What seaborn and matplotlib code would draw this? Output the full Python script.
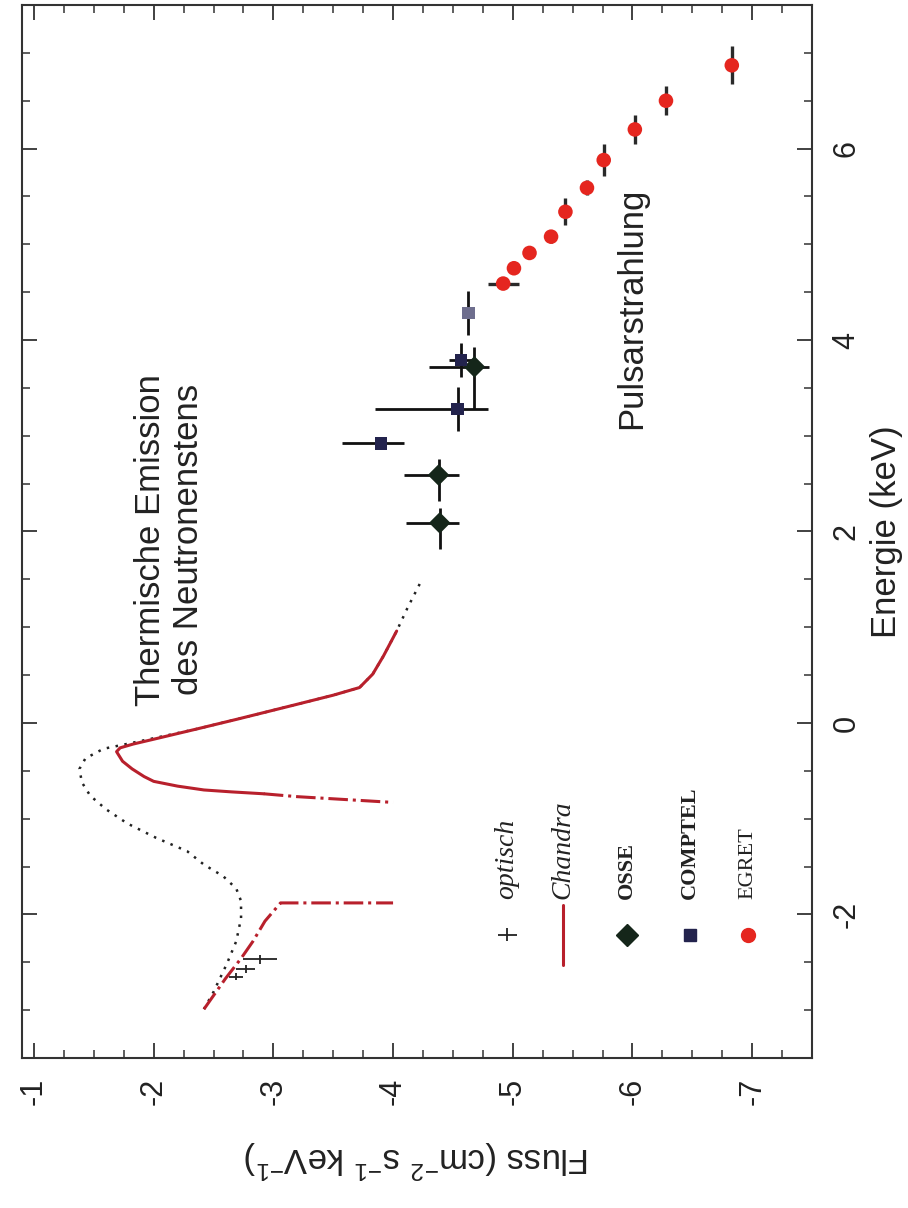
import matplotlib

matplotlib.use("Agg")
import matplotlib.pyplot as plt
import seaborn as sns
from matplotlib.ticker import MultipleLocator

# values in the original orientation: log energy (keV) and log flux
EGRET_ENERGY = [4.59, 4.75, 4.91, 5.08, 5.34, 5.59, 5.88, 6.20, 6.50, 6.87]
EGRET_FLUX = [-4.92, -5.01, -5.14, -5.32, -5.44, -5.62, -5.76, -6.02, -6.28, -6.83]
EGRET_ENERGY_ERR = [0.06, 0.05, 0.05, 0.07, 0.14, 0.08, 0.17, 0.15, 0.15, 0.20]
EGRET_FLUX_ERR = [0.13, 0.03, 0.03, 0.03, 0.03, 0.03, 0.03, 0.03, 0.03, 0.03]

COMPTEL_ENERGY = [4.28, 3.79, 3.28, 2.92]
COMPTEL_FLUX = [-4.63, -4.57, -4.54, -3.90]
COMPTEL_ENERGY_ERR = [0.23, 0.18, 0.23, 0.05]
COMPTEL_FLUX_ERR_LOW = [0.03, 0.10, 0.69, 0.33]
COMPTEL_FLUX_ERR_HIGH = [0.03, 0.10, 0.25, 0.19]
COMPTEL_COLORS = ["#6e6e8e", "#23234d", "#23234d", "#23234d"]

OSSE_ENERGY = [3.72, 2.59, 2.09]
OSSE_FLUX = [-4.68, -4.38, -4.39]
OSSE_ENERGY_ERR_LOW = [0.44, 0.27, 0.27]
OSSE_ENERGY_ERR_HIGH = [0.21, 0.17, 0.16]
OSSE_FLUX_ERR_LOW = [0.38, 0.29, 0.28]
OSSE_FLUX_ERR_HIGH = [0.12, 0.17, 0.16]

OPTICAL_ENERGY = [-2.47, -2.57, -2.65]
OPTICAL_FLUX = [-2.89, -2.77, -2.69]
OPTICAL_ENERGY_ERR = [0.05, 0.04, 0.04]
OPTICAL_FLUX_ERR = [0.14, 0.08, 0.06]

CHANDRA_ENERGY = [-0.74, -0.72, -0.70, -0.66, -0.61, -0.56, -0.48, -0.40, -0.30, -0.26,
                  -0.22, -0.17, -0.06, 0.04, 0.18, 0.29, 0.37, 0.51, 0.70, 0.96]
CHANDRA_FLUX = [-2.92, -2.65, -2.42, -2.20, -2.00, -1.92, -1.82, -1.74, -1.69, -1.72,
                -1.83, -2.00, -2.37, -2.70, -3.15, -3.50, -3.72, -3.83, -3.92, -4.03]

CUT_HIGH_ENERGY = [-0.74, -0.77, -0.80, -0.83]
CUT_HIGH_FLUX = [-2.92, -3.20, -3.60, -4.00]

CUT_LOW_ENERGY = [-2.99, -2.67, -2.46, -2.28, -2.07, -1.88, -1.88, -1.88]
CUT_LOW_FLUX = [-2.42, -2.60, -2.73, -2.83, -2.93, -3.06, -3.50, -4.00]

MODEL_ENERGY = [-2.99, -2.81, -2.52, -2.28, -2.04, -1.86, -1.73, -1.60, -1.48, -1.34,
                -1.20, -1.05, -0.90, -0.76, -0.62, -0.48, -0.37, -0.27, -0.20, -0.06,
                0.04, 0.18, 0.29, 0.37, 0.51, 0.70, 0.96, 1.20, 1.47]
MODEL_FLUX = [-2.42, -2.50, -2.61, -2.69, -2.73, -2.73, -2.69, -2.58, -2.42, -2.28,
              -2.02, -1.78, -1.60, -1.47, -1.40, -1.38, -1.43, -1.58, -1.85, -2.37,
              -2.70, -3.15, -3.50, -3.72, -3.83, -3.92, -4.03, -4.12, -4.23]

CHANDRA_RED = "#b8202c"
EGRET_RED = "#e5261f"
INK = "#222222"


def draw_curves(ax) -> None:
    # picture is turned by 90 degrees: flux runs along x, energy along y
    sns.lineplot(x=MODEL_FLUX, y=MODEL_ENERGY, sort=False, estimator=None, ax=ax,
                 color=INK, linewidth=1.8, linestyle=(0, (1, 2.6)))
    sns.lineplot(x=CUT_HIGH_FLUX, y=CUT_HIGH_ENERGY, sort=False, estimator=None, ax=ax,
                 color=CHANDRA_RED, linewidth=2.2, linestyle="-.")
    sns.lineplot(x=CUT_LOW_FLUX, y=CUT_LOW_ENERGY, sort=False, estimator=None, ax=ax,
                 color=CHANDRA_RED, linewidth=2.2, linestyle="-.")
    sns.lineplot(x=CHANDRA_FLUX, y=CHANDRA_ENERGY, sort=False, estimator=None, ax=ax,
                 color=CHANDRA_RED, linewidth=2.2)


def draw_points(ax) -> None:
    ax.errorbar(OPTICAL_FLUX, OPTICAL_ENERGY, xerr=OPTICAL_FLUX_ERR, yerr=OPTICAL_ENERGY_ERR,
                fmt="none", ecolor=INK, elinewidth=1.3, zorder=3)
    ax.errorbar(OSSE_FLUX, OSSE_ENERGY, xerr=[OSSE_FLUX_ERR_HIGH, OSSE_FLUX_ERR_LOW],
                yerr=[OSSE_ENERGY_ERR_LOW, OSSE_ENERGY_ERR_HIGH],
                fmt="none", ecolor="#111111", elinewidth=2, zorder=3)
    ax.errorbar(COMPTEL_FLUX, COMPTEL_ENERGY, xerr=[COMPTEL_FLUX_ERR_HIGH, COMPTEL_FLUX_ERR_LOW],
                yerr=COMPTEL_ENERGY_ERR, fmt="none", ecolor="#111111", elinewidth=2, zorder=3)
    ax.errorbar(EGRET_FLUX, EGRET_ENERGY, xerr=EGRET_FLUX_ERR, yerr=EGRET_ENERGY_ERR,
                fmt="none", ecolor="#2a2a2a", elinewidth=2.4, zorder=3)

    sns.scatterplot(x=OSSE_FLUX, y=OSSE_ENERGY, ax=ax, marker="D", s=120,
                    color="#15261a", edgecolor="none", zorder=4)
    sns.scatterplot(x=COMPTEL_FLUX, y=COMPTEL_ENERGY, ax=ax, marker="s", s=80,
                    c=COMPTEL_COLORS, edgecolor="none", zorder=4)
    sns.scatterplot(x=EGRET_FLUX, y=EGRET_ENERGY, ax=ax, marker="o", s=110,
                    color=EGRET_RED, edgecolor="none", zorder=4)


def draw_legend(ax) -> None:
    rows = [0.614, 0.685, 0.766, 0.846, 0.919]
    key_y = 0.117
    text_y = 0.151
    tr = ax.transAxes

    ax.errorbar([rows[0]], [key_y], xerr=[0.012], yerr=[0.006], transform=tr,
                fmt="none", ecolor=INK, elinewidth=1.3)
    ax.plot([rows[1], rows[1]], [0.088, 0.145], transform=tr, color=CHANDRA_RED, linewidth=2.2)
    ax.plot([rows[2]], [key_y], transform=tr, marker="D", markersize=11, color="#15261a",
            linestyle="none")
    ax.plot([rows[3]], [key_y], transform=tr, marker="s", markersize=8, color="#23234d",
            linestyle="none")
    ax.plot([rows[4]], [key_y], transform=tr, marker="o", markersize=10, color=EGRET_RED,
            linestyle="none")

    labels = ["optisch", "Chandra", "OSSE", "COMPTEL", "EGRET"]
    styles = [("italic", "normal", 20), ("italic", "normal", 20), ("normal", "bold", 16),
              ("normal", "bold", 16), ("normal", "normal", 16)]
    for x, label, (style, weight, size) in zip(rows, labels, styles):
        ax.text(x, text_y, label, transform=tr, rotation=90, rotation_mode="anchor",
                ha="left", va="center", fontsize=size, fontstyle=style, fontweight=weight,
                family=["Liberation Serif", "DejaVu Serif"], color=INK)


def main() -> None:
    sns.set_style("ticks")
    plt.rcParams["font.family"] = ["Liberation Sans", "DejaVu Sans"]
    plt.rcParams["axes.unicode_minus"] = False

    fig = plt.figure(figsize=(9.08, 12.08), dpi=100)
    ax = fig.add_axes([22 / 908, 1 - 1058 / 1208, 790 / 908, 1053 / 1208])

    draw_curves(ax)
    draw_points(ax)
    draw_legend(ax)

    ax.text(0.187, 0.492, "Thermische Emission\ndes Neutronenstens", transform=ax.transAxes,
            rotation=90, ha="center", va="center", multialignment="center",
            fontsize=25, linespacing=1.2, color=INK)
    ax.text(0.772, 0.712, "Pulsarstrahlung", transform=ax.transAxes, rotation=90,
            ha="center", va="center", fontsize=25, color=INK)

    ax.set_xlim(-0.9, -7.5)
    ax.set_ylim(-3.5, 7.5)
    ax.xaxis.set_major_locator(MultipleLocator(1))
    ax.xaxis.set_minor_locator(MultipleLocator(0.25))
    ax.yaxis.set_major_locator(MultipleLocator(2))
    ax.yaxis.set_minor_locator(MultipleLocator(0.5))

    ax.tick_params(which="both", direction="in", top=True, bottom=True, left=True, right=True,
                   labelleft=False, labelright=True, colors="#333333", labelcolor=INK)
    ax.tick_params(which="major", length=11, width=1.3, labelsize=22)
    ax.tick_params(which="minor", length=6, width=1.1)
    ax.tick_params(axis="x", which="major", pad=14)
    ax.tick_params(axis="y", which="major", pad=14)
    for label in ax.get_xticklabels() + ax.get_yticklabels():
        label.set_rotation(90)
    for label in ax.get_yticklabels():
        label.set_verticalalignment("center")

    for spine in ax.spines.values():
        spine.set_color("#333333")
        spine.set_linewidth(1.5)

    ax.set_xlabel(r"Fluss (cm$^{\mathregular{-2}}$ s$^{\mathregular{-1}}$ keV$^{\mathregular{-1}}$)",
                  fontsize=25, rotation=180, labelpad=24, color=INK)
    ax.yaxis.set_label_position("right")
    ax.set_ylabel("Energie (keV)", fontsize=25, rotation=90, labelpad=6, color=INK)

    fig.savefig("out.png", dpi=100, facecolor="white")


if __name__ == "__main__":
    main()
